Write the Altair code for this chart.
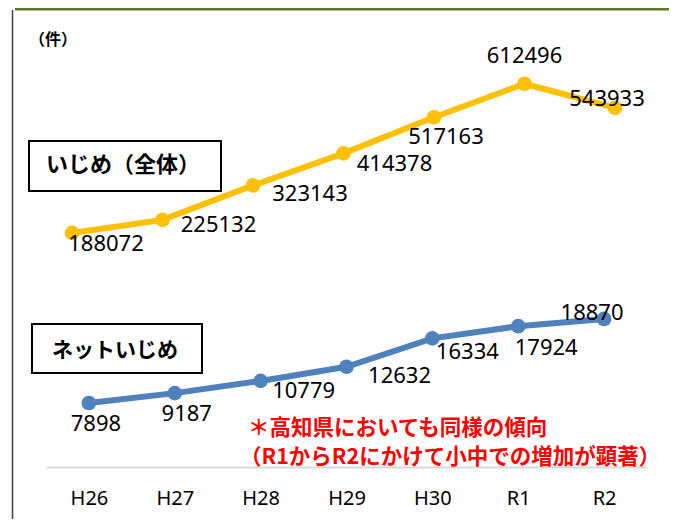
import altair as alt
import pandas as pd

# ---- data ----
years = ["H26", "H27", "H28", "H29", "H30", "R1", "R2"]
ijime_total = [188072, 225132, 323143, 414378, 517163, 612496, 543933]
ijime_net = [7898, 9187, 10779, 12632, 16334, 17924, 18870]

label_total = "いじめ（全体）"
label_net = "ネットいじめ"
unit_label = "（件）"
note_line1 = "＊高知県においても同様の傾向"
note_line2 = "（R1からR2にかけて小中での増加が顕著）"

df_total = pd.DataFrame({"year": years, "value": ijime_total})
df_net = pd.DataFrame({"year": years, "value": ijime_net})
one = pd.DataFrame({"a": [0]})

# ---- style ----
YELLOW = "#FFC000"
BLUE = "#4F81BD"
NUM_FONT = "Noto Sans"
JP_FONT = "Noto Sans CJK JP"

# label offsets (dx, dy) per point, styling only
total_offsets = [(34, 11), (56, 5), (57, 9), (51, 11), (12, 20), (0, -28), (-8, -9)]
net_offsets = [(7, 21), (12, 21), (43, 10), (53, 9), (35, 14), (28, 22), (-12, -6)]

x_total = alt.X("year:N", scale=alt.Scale(type="point", domain=years, range=[64, 607], padding=0), axis=None)
y_total = alt.Y("value:Q", scale=alt.Scale(domain=[0, 700000], range=[291, 45]), axis=None)

net_scale_x = alt.Scale(type="point", domain=years, range=[38, 639], padding=0.5)
x_net_axis = alt.X(
    "year:N",
    scale=net_scale_x,
    axis=alt.Axis(
        title=None, labelAngle=0, ticks=False, grid=False,
        domainColor="#D9D9D9", domainWidth=2,
        labelFont=NUM_FONT, labelFontSize=20, labelFontWeight="normal", labelColor="#000000",
        labelPadding=31, labelBaseline="middle",
    ),
)
x_net = alt.X("year:N", scale=net_scale_x, axis=None)
y_net = alt.Y("value:Q", scale=alt.Scale(domain=[0, 25000], range=[455.5, 264]), axis=None)


def deco_rect(x, x2, y, y2, **kw):
    return alt.Chart(one).mark_rect(**kw).encode(
        x=alt.value(x), x2=alt.value(x2), y=alt.value(y), y2=alt.value(y2)
    )


def deco_text(txt, x, y, **kw):
    return alt.Chart(one).mark_text(**kw).encode(
        x=alt.value(x), y=alt.value(y), text=alt.value(txt)
    )


layers = []
# header bar and left border
layers.append(deco_rect(7, 661, 0, 2.5, color="#5E7A28"))
layers.append(alt.Chart(one).mark_rule(color="#404040", strokeWidth=1.5).encode(
    x=alt.value(4.5), y=alt.value(2), y2=alt.value(511)))

# unit label
layers.append(deco_text(unit_label, 45, 32, font=JP_FONT, fontSize=16, fontWeight="bold", color="#000000",
                        align="center", baseline="middle"))

# series name boxes
layers.append(deco_rect(21, 213, 133, 183, fill="white", stroke="#000000", strokeWidth=2))
layers.append(deco_text(label_total, 115, 157, font=JP_FONT, fontSize=22, fontWeight="bold", color="#000000",
                        align="center", baseline="middle"))
layers.append(deco_rect(24, 194, 316, 365, fill="white", stroke="#000000", strokeWidth=2))
layers.append(deco_text(label_net, 107, 343, font=JP_FONT, fontSize=21, fontWeight="bold", color="#000000",
                        align="center", baseline="middle"))

# blue series (with x axis)
layers.append(alt.Chart(df_net).mark_line(color=BLUE, strokeWidth=6).encode(x=x_net_axis, y=y_net))
layers.append(alt.Chart(df_net).mark_point(filled=True, color=BLUE, size=215, opacity=1, shape="circle").encode(x=x_net, y=y_net))

# yellow series
layers.append(alt.Chart(df_total).mark_line(color=YELLOW, strokeWidth=6).encode(x=x_total, y=y_total))
layers.append(alt.Chart(df_total).mark_point(filled=True, color=YELLOW, size=215, opacity=1, shape="circle").encode(x=x_total, y=y_total))

# note text
layers.append(deco_text(note_line1, 240, 421, font=JP_FONT, fontSize=21.5, fontWeight="bold", color="#FF0000",
                        align="left", baseline="middle"))
layers.append(deco_text(note_line2, 232, 450, font=JP_FONT, fontSize=21.5, fontWeight="bold", color="#FF0000",
                        align="left", baseline="middle"))

# data labels
for yr, (dx, dy) in zip(years, total_offsets):
    layers.append(
        alt.Chart(df_total).transform_filter(alt.datum.year == yr)
        .mark_text(font=NUM_FONT, fontSize=22, color="#000000", dx=dx, dy=dy, align="center", baseline="middle")
        .encode(x=x_total, y=y_total, text=alt.Text("value:Q", format="d"))
    )
for yr, (dx, dy) in zip(years, net_offsets):
    layers.append(
        alt.Chart(df_net).transform_filter(alt.datum.year == yr)
        .mark_text(font=NUM_FONT, fontSize=22, color="#000000", dx=dx, dy=dy, align="center", baseline="middle")
        .encode(x=x_net, y=y_net, text=alt.Text("value:Q", format="d"))
    )

chart = (
    alt.layer(*layers)
    .resolve_scale(x="independent", y="independent")
    .properties(
        width=661, height=459,
        autosize=alt.AutoSizeParams(type="none"),
        padding={"left": 0, "right": 0, "top": 0, "bottom": 52},
        background="white",
    )
    .configure_view(stroke=None)
)

chart.save("out.html", embed_options={"renderer": "svg", "actions": False})
